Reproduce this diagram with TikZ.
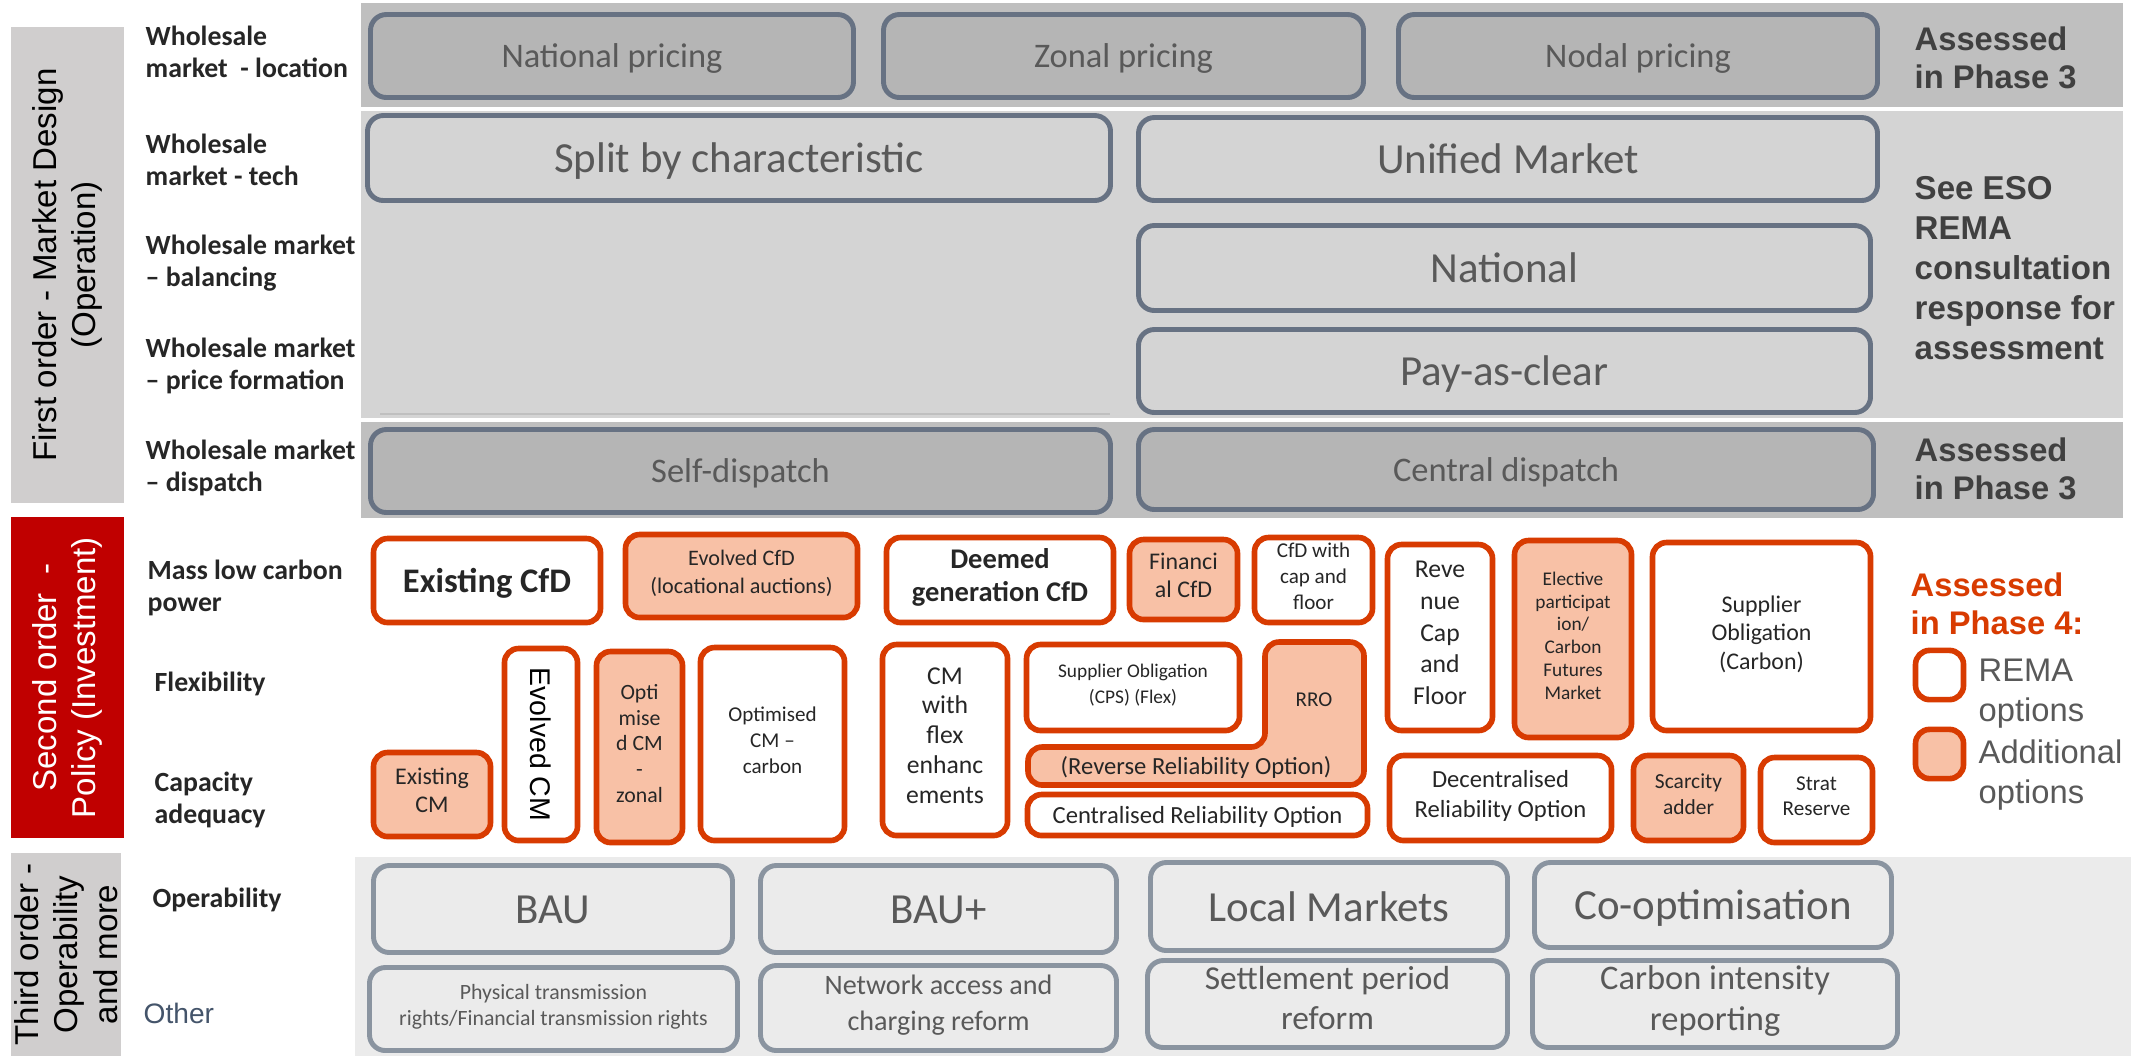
\documentclass[tikz,border=0pt]{standalone}
\usepackage{fontspec}
\setmainfont{Carlito}
\newfontfamily\arialf{Liberation Sans}
\usetikzlibrary{fit}

\definecolor{bandd}{HTML}{BFBFBF}
\definecolor{bandl}{HTML}{D4D4D4}
\definecolor{bandt}{HTML}{EBEBEB}
\definecolor{slate}{HTML}{677283}
\definecolor{tline}{HTML}{8A94A0}
\definecolor{rema}{HTML}{D83B01}
\definecolor{salmon}{HTML}{F8C1A6}
\definecolor{panelg}{HTML}{D0CECE}
\definecolor{panelr}{HTML}{C00000}
\definecolor{boxtxt}{HTML}{595959}
\definecolor{darktxt}{HTML}{262626}
\definecolor{phgray}{HTML}{404040}
\definecolor{othertxt}{HTML}{44546A}

\newcommand{\setfs}[2]{\fontsize{#1}{#2}\selectfont}
\newcommand{\topstrut}{\rule[-0.3\baselineskip]{0pt}{\dimexpr\baselineskip+0.2em\relax}}
% box from corner (x1,y1) to corner (x2,y2), in pixels
\newcommand{\rbox}[7]{\node[#1, minimum width={(#5-#3-5)*0.01cm}, minimum height={(#6-#4-5)*0.01cm}] (#2) at ({(#3+#5)/2},{(#4+#6)/2}) {#7};}

\tikzset{
  struts/.style={execute at begin node=\topstrut, execute at end node=\strut},
  gbox/.style={draw=slate, line width=1.4pt, rounded corners=4.5pt, inner sep=0pt, align=center, text=boxtxt, struts},
  obox/.style={draw=rema, line width=1.6pt, rounded corners=4pt, inner sep=0pt, align=center, fill=white, text=darktxt, struts},
  abox/.style={obox, fill=salmon},
  tbox/.style={draw=tline, line width=1.4pt, rounded corners=4.5pt, inner sep=0pt, align=center, fill=bandt, text=boxtxt, struts},
  rowlab/.style={anchor=west, align=left, inner sep=0pt, text=darktxt, font=\bfseries\setfs{7.9}{9.2}},
  panellab/.style={rotate=90, align=center, inner sep=0pt, font=\arialf\setfs{9.4}{11.2}},
  phasetxt/.style={anchor=west, align=left, inner sep=0pt, text=phgray, font=\arialf\bfseries\setfs{9.3}{10.8}},
  legtxt/.style={anchor=west, align=left, inner sep=0pt, text=boxtxt, font=\arialf\setfs{9.3}{11.4}}
}

\begin{document}
\begin{tikzpicture}[x=0.01cm, y=-0.01cm]
\useasboundingbox (0,0) rectangle (2131,1056);

\fill[bandd] (361,3) rectangle (2123,107);
\fill[bandl] (361,111) rectangle (2123,418);
\fill[bandd] (361,422) rectangle (2123,518);
\fill[bandt] (355,857) rectangle (2131,1056);
\draw[bandd, line width=0.6pt] (380,414) -- (1110,414);

\node[fill=panelg, inner sep=0pt, fit={(11,27) (124,503)}] (first) {};
\node[fill=panelr, inner sep=0pt, fit={(11,517) (124,838)}] (second) {};
\node[fill=panelg, inner sep=0pt, fit={(11,853) (121,1056)}] (third) {};
\node[panellab] (firstt) at (first.center) {First order - Market Design\\(Operation)};
\node[panellab, text=white] (secondt) at (second.center) {Second order \ -\\Policy (Investment)};
\node[panellab] (thirdt) at (third.center) {Third order -\\Operability\\and more};

\node[rowlab] (wl) at (145,52) {Wholesale\\market \ - location};
\node[rowlab] (wt) at (145,160) {Wholesale\\market - tech};
\node[rowlab] (wb) at (145,263) {Wholesale market\\-- balancing};
\node[rowlab] (wp) at (145,366) {Wholesale market\\-- price formation};
\node[rowlab] (wd) at (145,468) {Wholesale market\\-- dispatch};
\node[rowlab] (mass) at (147,588) {Mass low carbon\\power};
\node[rowlab] (flex) at (154,684) {Flexibility};
\node[rowlab] (cap) at (154,800) {Capacity\\adequacy};
\node[rowlab] (oper) at (152,900) {Operability};
\node[anchor=west, inner sep=0pt, text=othertxt, font=\arialf\setfs{8}{9.6}] (other) at (143,1013) {Other};

\rbox{gbox, fill=bandd!95!black, font=\setfs{9.8}{11.8}}{natp}{368}{12}{856}{100}{National pricing}
\rbox{gbox, fill=bandd!95!black, font=\setfs{9.8}{11.8}}{zonp}{881}{12}{1366}{100}{Zonal pricing}
\rbox{gbox, fill=bandd!95!black, font=\setfs{9.8}{11.8}}{nodp}{1396}{12}{1880}{100}{Nodal pricing}
\rbox{gbox, fill=bandl, font=\setfs{12.2}{14.6}}{split}{365}{113}{1113}{203}{Split by characteristic}
\rbox{gbox, fill=bandl, font=\setfs{12.2}{14.6}}{unif}{1136}{115}{1880}{203}{Unified Market}
\rbox{gbox, fill=bandl, font=\setfs{12.2}{14.6}}{natl}{1136}{223}{1873}{313}{National}
\rbox{gbox, fill=bandl, font=\setfs{12.2}{14.6}}{payc}{1136}{327}{1873}{415}{Pay-as-clear}
\rbox{gbox, fill=bandd!95!black, font=\setfs{9.8}{11.8}}{selfd}{368}{427}{1113}{515}{Self-dispatch}
\rbox{gbox, fill=bandd!95!black, font=\setfs{9.8}{11.8}}{centd}{1136}{427}{1876}{512}{Central dispatch}

\node[phasetxt] (ph3a) at (1914,58) {Assessed\\in Phase 3};
\node[phasetxt, font=\arialf\bfseries\setfs{9.4}{11.4}] (eso) at (1914,268) {See ESO\\REMA\\consultation\\response for\\assessment};
\node[phasetxt] (ph3b) at (1914,469) {Assessed\\in Phase 3};

\rbox{obox, font=\bfseries\setfs{9.8}{11.8}}{excfd}{371}{536}{603}{625}{Existing CfD}
\rbox{abox, font=\setfs{6.3}{8}}{evcfd}{623}{532}{860}{620}{Evolved CfD\\(locational auctions)}
\rbox{obox, font=\bfseries\setfs{8.1}{9.4}}{deemed}{884}{535}{1116}{625}{Deemed\\generation CfD}
\rbox{abox, font=\setfs{6.8}{8}}{fincfd}{1127}{537}{1240}{622}{Financi\\al CfD}
\rbox{obox, font=\setfs{6}{7.4}}{capfl}{1252}{535}{1375}{625}{CfD with\\cap and\\floor}
\rbox{obox, font=\setfs{7.3}{9}}{revcap}{1385}{542}{1495}{733}{Reve\\nue\\Cap\\and\\Floor}
\rbox{abox, font=\setfs{5.5}{6.5}}{elect}{1512}{538}{1634}{740}{Elective\\participat\\ion/\\Carbon\\Futures\\Market}
\rbox{obox, font=\setfs{6.8}{8.1}}{supcarb}{1650}{540}{1873}{733}{Supplier\\Obligation\\(Carbon)}

\rbox{abox, font=\setfs{6.8}{8}}{excm}{371}{750}{493}{839}{Existing\\CM}
\rbox{obox}{evcm}{502}{646}{580}{843}{}
\node[rotate=-90, inner sep=0pt, text=black, font=\arialf\setfs{8.1}{9.6}] (evcmt) at (evcm.center) {Evolved CM};
\rbox{abox, font=\setfs{6.2}{7.3}}{optz}{594}{649}{685}{845}{Opti\\mise\\d CM\\-\\zonal}
\rbox{obox, font=\setfs{6}{7.4}}{optc}{698}{645}{847}{843}{Optimised\\CM --\\carbon}
\rbox{obox, font=\setfs{7.3}{8.5}}{cmflex}{880}{642}{1010}{838}{CM\\with\\flex\\enhanc\\ements}
\rbox{obox, font=\setfs{5.5}{7.4}}{supflex}{1024}{642}{1242}{733}{Supplier Obligation\\(CPS) (Flex)}
\draw[draw=rema, line width=1.6pt, fill=salmon, rounded corners=4pt] (1028,747) -- (1265,747) -- (1265,642) -- (1364,642) -- (1364,785) -- (1028,785) -- cycle;
\node[text=darktxt, font=\setfs{6}{7.2}] (rro) at (1314,700) {RRO};
\node[text=darktxt, font=\setfs{7}{8.4}] (rrot) at (1196,767) {(Reverse Reliability Option)};
\rbox{obox, font=\setfs{7}{8.4}}{cro}{1025}{792}{1370}{838}{Centralised Reliability Option}
\rbox{obox, font=\setfs{7}{8.5}}{dro}{1387}{753}{1614}{843}{Decentralised\\Reliability Option}
\rbox{abox, font=\setfs{6.1}{7.4}}{scar}{1631}{753}{1746}{843}{Scarcity\\adder}
\rbox{obox, font=\setfs{6}{7.1}}{strat}{1758}{755}{1875}{845}{Strat\\Reserve}

\node[phasetxt, text=rema] (ph4) at (1910,604) {Assessed\\in Phase 4:};
\rbox{obox}{legrema}{1913}{658}{1966}{692}{}
\node[legtxt] (legremat) at (1978,694) {REMA\\options};
\rbox{abox}{legadd}{1913}{738}{1966}{770}{}
\node[legtxt] (legaddt) at (1978,775) {Additional\\options};

\rbox{tbox, font=\setfs{12.2}{14.6}}{bau}{371}{863}{735}{955}{BAU}
\rbox{tbox, font=\setfs{12.2}{14.6}}{baup}{758}{863}{1119}{955}{BAU+}
\rbox{tbox, font=\setfs{12.2}{14.6}}{locm}{1148}{860}{1510}{953}{Local Markets}
\rbox{tbox, font=\setfs{12.2}{14.6}}{coopt}{1532}{860}{1894}{950}{Co-optimisation}
\rbox{tbox, font=\setfs{6.2}{7.3}}{ptr}{367}{965}{740}{1053}{Physical transmission\\rights/Financial transmission rights}
\rbox{tbox, font=\setfs{8}{10}}{netw}{758}{963}{1119}{1053}{Network access and\\charging reform}
\rbox{tbox, font=\setfs{9.5}{11.4}}{settl}{1145}{958}{1510}{1050}{Settlement period\\reform}
\rbox{tbox, font=\setfs{9.8}{11.4}}{cint}{1530}{958}{1900}{1050}{Carbon intensity\\reporting}

\end{tikzpicture}
\end{document}
